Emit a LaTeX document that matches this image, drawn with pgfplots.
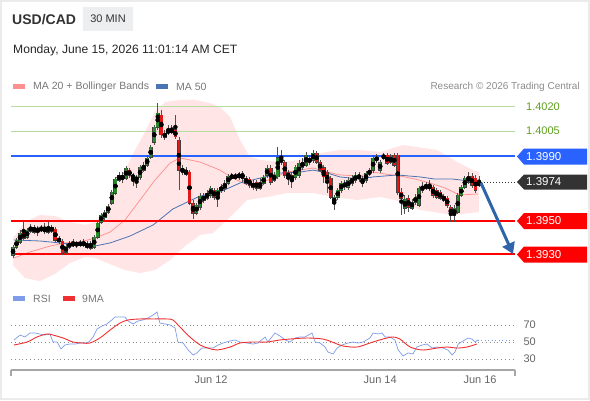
\documentclass[border=0pt]{standalone}
\usepackage{pgfplots}
\pgfplotsset{compat=1.18}
\usepackage{pgfplotstable}
\usetikzlibrary{arrows.meta}
\usepackage{fontspec}
\setmainfont{Liberation Sans}
\newcommand\fs[1]{\fontsize{#1}{#1}\selectfont}
\definecolor{upgreen}{HTML}{2A8A2A}
\definecolor{downred}{HTML}{E01818}
\definecolor{wick}{HTML}{505050}
\definecolor{bandfill}{HTML}{FFE5E5}
\definecolor{ma20}{HTML}{FF9090}
\definecolor{ma50}{HTML}{4A74B4}
\definecolor{lvlgreen}{HTML}{B8DCA0}
\definecolor{lvltext}{HTML}{5FA01E}
\definecolor{lvlblue}{HTML}{2962FF}
\definecolor{lvlred}{HTML}{FF0000}
\definecolor{tagdark}{HTML}{333333}
\definecolor{arrowblue}{HTML}{2F64A8}
\definecolor{rsiblue}{HTML}{7E9CEB}
\definecolor{rsired}{HTML}{F03030}
\definecolor{txtgray}{HTML}{777777}
\definecolor{lightgray}{HTML}{ECEEF0}

\pgfplotstableread{
i o h l c
0 1.39294 1.39355 1.39276 1.39343
1 1.39343 1.39398 1.39331 1.39386
2 1.39374 1.39447 1.39362 1.39429
4 1.39404 1.39459 1.39392 1.39447
5 1.39441 1.39484 1.39429 1.39466
7 1.39441 1.39472 1.39410 1.39459
8 1.39447 1.39478 1.39435 1.39459
10 1.39435 1.39496 1.39423 1.39466
15 1.39313 1.39362 1.39300 1.39349
16 1.39343 1.39380 1.39331 1.39368
17 1.39355 1.39392 1.39343 1.39368
19 1.39355 1.39386 1.39343 1.39374
23 1.39343 1.39417 1.39331 1.39404
24 1.39404 1.39508 1.39392 1.39490
25 1.39496 1.39551 1.39484 1.39539
26 1.39521 1.39570 1.39508 1.39557
27 1.39557 1.39606 1.39545 1.39594
28 1.39612 1.39692 1.39600 1.39680
29 1.39674 1.39772 1.39661 1.39759
30 1.39753 1.39802 1.39741 1.39784
32 1.39765 1.39839 1.39753 1.39827
36 1.39772 1.39845 1.39753 1.39833
37 1.39814 1.39863 1.39802 1.39845
38 1.39845 1.39906 1.39833 1.39888
39 1.39894 1.39967 1.39882 1.39955
40 1.39986 1.40090 1.39967 1.40078
41 1.40078 1.40224 1.40059 1.40163
43 1.40016 1.40059 1.39998 1.40041
44 1.40041 1.40090 1.40029 1.40059
49 1.39790 1.39833 1.39778 1.39814
52 1.39551 1.39612 1.39539 1.39600
53 1.39588 1.39674 1.39570 1.39655
55 1.39643 1.39692 1.39631 1.39674
56 1.39661 1.39717 1.39643 1.39704
58 1.39649 1.39704 1.39588 1.39692
59 1.39692 1.39729 1.39674 1.39710
60 1.39704 1.39753 1.39680 1.39735
61 1.39735 1.39790 1.39723 1.39778
62 1.39765 1.39796 1.39753 1.39784
70 1.39704 1.39765 1.39692 1.39735
71 1.39735 1.39784 1.39723 1.39772
72 1.39784 1.39845 1.39765 1.39827
74 1.39753 1.39802 1.39741 1.39784
75 1.39772 1.39955 1.39759 1.39888
80 1.39772 1.39845 1.39753 1.39833
81 1.39784 1.39876 1.39765 1.39857
83 1.39845 1.39925 1.39833 1.39906
84 1.39863 1.39906 1.39845 1.39888
85 1.39876 1.39937 1.39857 1.39918
91 1.39612 1.39661 1.39570 1.39649
92 1.39649 1.39704 1.39631 1.39692
93 1.39692 1.39747 1.39674 1.39735
95 1.39710 1.39772 1.39692 1.39753
96 1.39735 1.39784 1.39717 1.39765
97 1.39753 1.39802 1.39735 1.39784
100 1.39753 1.39808 1.39735 1.39796
101 1.39790 1.39827 1.39778 1.39814
102 1.39814 1.39906 1.39796 1.39888
104 1.39814 1.39876 1.39796 1.39863
105 1.39888 1.39918 1.39876 1.39906
111 1.39582 1.39661 1.39545 1.39637
113 1.39582 1.39637 1.39570 1.39619
114 1.39619 1.39668 1.39600 1.39649
115 1.39600 1.39717 1.39588 1.39704
116 1.39692 1.39741 1.39674 1.39717
117 1.39704 1.39741 1.39692 1.39723
125 1.39539 1.39600 1.39496 1.39582
126 1.39557 1.39674 1.39545 1.39661
127 1.39661 1.39723 1.39649 1.39710
128 1.39710 1.39778 1.39698 1.39765
129 1.39741 1.39802 1.39729 1.39778
132 1.39723 1.39778 1.39710 1.39741
}\upc

\pgfplotstableread{
i o h l c
3 1.39429 1.39496 1.39386 1.39398
6 1.39466 1.39478 1.39423 1.39435
9 1.39459 1.39490 1.39423 1.39435
11 1.39466 1.39478 1.39429 1.39441
12 1.39453 1.39466 1.39374 1.39386
13 1.39398 1.39410 1.39362 1.39374
14 1.39380 1.39392 1.39294 1.39306
18 1.39368 1.39380 1.39337 1.39355
20 1.39374 1.39392 1.39343 1.39355
21 1.39362 1.39380 1.39331 1.39343
22 1.39368 1.39380 1.39325 1.39337
31 1.39784 1.39802 1.39735 1.39759
33 1.39814 1.39827 1.39765 1.39784
34 1.39784 1.39796 1.39717 1.39765
35 1.39772 1.39784 1.39704 1.39753
42 1.40151 1.40182 1.40010 1.40029
45 1.40059 1.40090 1.40035 1.40047
46 1.40059 1.40151 1.40004 1.40016
47 1.39998 1.40016 1.39692 1.39814
48 1.39827 1.39845 1.39784 1.39802
50 1.39802 1.39814 1.39600 1.39612
51 1.39612 1.39631 1.39515 1.39551
54 1.39655 1.39674 1.39612 1.39631
57 1.39692 1.39704 1.39631 1.39649
63 1.39784 1.39796 1.39753 1.39765
64 1.39790 1.39802 1.39753 1.39772
65 1.39796 1.39808 1.39741 1.39765
66 1.39765 1.39778 1.39723 1.39735
67 1.39759 1.39772 1.39704 1.39723
68 1.39735 1.39753 1.39692 1.39710
69 1.39741 1.39753 1.39686 1.39704
73 1.39827 1.39845 1.39723 1.39741
76 1.39888 1.39937 1.39845 1.39863
77 1.39863 1.39876 1.39765 1.39784
78 1.39802 1.39814 1.39723 1.39765
79 1.39784 1.39802 1.39704 1.39753
82 1.39863 1.39888 1.39814 1.39833
86 1.39918 1.39931 1.39851 1.39863
87 1.39863 1.39876 1.39802 1.39814
88 1.39827 1.39845 1.39735 1.39772
89 1.39802 1.39814 1.39674 1.39741
90 1.39765 1.39778 1.39637 1.39649
94 1.39735 1.39753 1.39692 1.39717
98 1.39784 1.39802 1.39741 1.39765
99 1.39765 1.39778 1.39710 1.39735
103 1.39888 1.39912 1.39857 1.39876
106 1.39906 1.39918 1.39845 1.39857
107 1.39894 1.39912 1.39851 1.39863
108 1.39906 1.39918 1.39833 1.39845
109 1.39906 1.39918 1.39661 1.39680
110 1.39680 1.39704 1.39539 1.39643
112 1.39643 1.39661 1.39557 1.39588
118 1.39717 1.39753 1.39686 1.39704
119 1.39710 1.39723 1.39643 1.39661
120 1.39692 1.39704 1.39637 1.39649
121 1.39680 1.39692 1.39631 1.39643
122 1.39655 1.39668 1.39619 1.39631
123 1.39643 1.39655 1.39582 1.39600
124 1.39588 1.39600 1.39496 1.39539
130 1.39778 1.39796 1.39704 1.39723
131 1.39765 1.39784 1.39674 1.39692
}\downc

\pgfplotsset{
  wickstyle/.style={only marks, mark=none, forget plot,
    error bars/.cd, y dir=both, y explicit, error mark=none,
    error bar style={draw=wick, line width=0.8pt, solid}},
  bodystyle/.style={only marks, mark=none, forget plot,
    error bars/.cd, y dir=both, y explicit, error mark=none,
    error bar style={draw=#1, line width=2.5pt, solid}},
}

\begin{document}
\begin{tikzpicture}
\begin{scope}[x=1pt,y=-1pt]
\fill[white] (0,0) rectangle (590,400);
\draw[color=black!8, line width=2pt] (1,1) rectangle (589,399);
% header
\node[anchor=base west, inner sep=0, font=\fs{14}\bfseries, text=black!80] at (12,24.5) {USD/CAD};
\fill[lightgray] (83,7) rectangle (133,31);
\node[font=\fs{11}, text=black!80] at (108,19) {30 MIN};
\node[anchor=base west, inner sep=0, font=\fs{12.1}, text=black!85] at (13,53) {Monday, June 15, 2026 11:01:14 AM CET};
% legend
\fill[ma20] (13,84) rectangle (25,89);
\node[anchor=west, inner sep=0, font=\fs{10.5}, text=txtgray] at (33,86.5) {MA 20 + Bollinger Bands};
\fill[ma50] (156,84) rectangle (168,89);
\node[anchor=west, inner sep=0, font=\fs{10.5}, text=txtgray] at (176,86.5) {MA 50};
\node[anchor=east, inner sep=0, font=\fs{10}, text=black!45] at (580,86.5) {Research \textcopyright{} 2026 Trading Central};
\fill[rsiblue] (13,296) rectangle (25,301);
\node[anchor=west, inner sep=0, font=\fs{10.5}, text=txtgray] at (33,298.5) {RSI};
\fill[rsired] (63,296) rectangle (75,301);
\node[anchor=west, inner sep=0, font=\fs{10.5}, text=txtgray] at (82,298.5) {9MA};
\end{scope}

\begin{axis}[at={(11pt,-95pt)}, anchor=north west, width=504pt, height=190pt,
  scale only axis, xmin=-0.57, xmax=142.2, ymin=1.391106, ymax=1.402734,
  axis lines=none, clip=true]
% Bollinger band (upper edge left to right, lower edge right to left)
\addplot[fill=bandfill, draw=none, forget plot] coordinates {
(0,1.39398)(3.4,1.39496)(7.6,1.39539)(11.9,1.39533)(16.1,1.39496)(20.4,1.39478)(23.2,1.39496)(26.1,1.39570)(28.9,1.39680)(31.7,1.39814)(34.6,1.39937)(37.4,1.40047)(40.2,1.40170)(43.1,1.40231)(47.3,1.40243)(51.6,1.40243)(55.8,1.40224)(58.6,1.40200)(61.5,1.40139)(64.3,1.39998)(67.1,1.39894)(70.0,1.39876)(75.6,1.39863)(81.3,1.39876)(87.0,1.39918)(92.6,1.39937)(98.3,1.39937)(104.0,1.39925)(110.5,1.39967)(120.1,1.39937)(125.8,1.39863)(130.3,1.39814)(132.0,1.39802)
(132.0,1.39557)(124.6,1.39539)(115.3,1.39570)(108.2,1.39631)(104.0,1.39649)(97.5,1.39631)(90.7,1.39649)(85.0,1.39674)(77.6,1.39674)(72.0,1.39649)(66.3,1.39631)(61.5,1.39527)(56.7,1.39429)(53.0,1.39417)(48.7,1.39349)(44.5,1.39264)(40.2,1.39202)(36.0,1.39184)(31.7,1.39202)(27.5,1.39239)(23.2,1.39276)(20.4,1.39282)(16.1,1.39245)(11.9,1.39178)(7.6,1.39135)(3.4,1.39153)(0,1.39233)} -- cycle;
% MA20
\addplot[ma20, line width=0.75pt] coordinates {
(0.3,1.39276)(4.8,1.39313)(10.5,1.39349)(14.7,1.39368)(19.0,1.39374)(23.2,1.39398)(27.5,1.39435)(31.7,1.39508)(36.0,1.39631)(40.2,1.39753)(44.5,1.39857)(47.3,1.39888)(50.1,1.39876)(53.0,1.39863)(58.6,1.39814)(62.3,1.39765)(66.3,1.39723)(70.0,1.39735)(73.7,1.39765)(77.6,1.39802)(81.3,1.39814)(85.0,1.39827)(89.0,1.39802)(92.6,1.39784)(98.3,1.39778)(102.0,1.39802)(105.4,1.39790)(109.6,1.39778)(113.9,1.39759)(118.1,1.39735)(122.4,1.39704)(126.6,1.39661)(131.7,1.39668)};
% MA50
\addplot[ma50, line width=0.8pt] coordinates {
(0.3,1.39386)(7.6,1.39380)(13.3,1.39368)(19.0,1.39355)(23.2,1.39349)(27.5,1.39368)(33.1,1.39410)(39.7,1.39478)(45.3,1.39576)(50.0,1.39625)(53.0,1.39655)(58.6,1.39680)(64.3,1.39735)(70.0,1.39765)(75.6,1.39796)(81.3,1.39802)(85.0,1.39814)(89.0,1.39796)(92.6,1.39772)(98.3,1.39759)(102.0,1.39772)(108.8,1.39784)(115.3,1.39772)(119.5,1.39759)(124.6,1.39759)(131.7,1.39741)};
% levels
\addplot[lvlgreen, line width=1pt] coordinates {(-0.57,1.4020)(142.2,1.4020)};
\addplot[lvlgreen, line width=1pt] coordinates {(-0.57,1.4005)(142.2,1.4005)};
\addplot[lvlblue, line width=1.2pt] coordinates {(-0.57,1.3990)(142.2,1.3990)};
\addplot[lvlred, line width=2pt] coordinates {(-0.57,1.3950)(142.2,1.3950)};
\addplot[lvlred, line width=2pt] coordinates {(-0.57,1.3930)(142.2,1.3930)};
\addplot[black!80, line width=0.9pt, dash pattern=on 1pt off 2pt] coordinates {(132.6,1.3974)(142.2,1.3974)};
% candles
\addplot[wickstyle] table[x=i, y expr={(\thisrow{h}+\thisrow{l})/2}, y error expr={(\thisrow{h}-\thisrow{l})/2}] {\upc};
\addplot[wickstyle] table[x=i, y expr={(\thisrow{h}+\thisrow{l})/2}, y error expr={(\thisrow{h}-\thisrow{l})/2}] {\downc};
\addplot[bodystyle=black!75, error bar style={line width=3.8pt}] table[x=i, y expr={(\thisrow{o}+\thisrow{c})/2}, y error expr={abs(\thisrow{c}-\thisrow{o})/2+0.00003}] {\upc};
\addplot[bodystyle=black!75, error bar style={line width=3.8pt}] table[x=i, y expr={(\thisrow{o}+\thisrow{c})/2}, y error expr={abs(\thisrow{c}-\thisrow{o})/2+0.00003}] {\downc};
\addplot[bodystyle=upgreen, error bar style={line width=2.6pt}] table[x=i, y expr={(\thisrow{o}+\thisrow{c})/2}, y error expr={abs(\thisrow{c}-\thisrow{o})/2}] {\upc};
\addplot[bodystyle=downred, error bar style={line width=2.6pt}] table[x=i, y expr={(\thisrow{o}+\thisrow{c})/2}, y error expr={abs(\thisrow{c}-\thisrow{o})/2}] {\downc};
\end{axis}

\begin{axis}[at={(11pt,-300pt)}, anchor=north west, width=504pt, height=70pt,
  scale only axis, xmin=-0.57, xmax=142.2, ymin=17.06, ymax=99.4,
  axis x line=bottom, axis y line=right,
  x axis line style={-, draw=black!35, line width=1.6pt},
  y axis line style={draw=none},
  major tick length=0pt,
  xtick={56.1,104,132.3}, xticklabels={Jun 12,Jun 14,Jun 16},
  ytick={30,50,70},
  ymajorgrids, grid style={black!45, line width=0.7pt, dash pattern=on 0.8pt off 3pt},
  tick label style={font=\fs{11}, text=black!60},
  xticklabel style={yshift=-2.5pt},
  yticklabel style={xshift=5pt},
  /pgf/number format/assume math mode=true,
  clip=false]
\addplot[rsiblue, line width=0.7pt] coordinates {
(0.3,52.4)(2.0,58.2)(3.4,55.9)(4.8,60.6)(6.2,60.6)(7.6,59.4)(9.1,58.2)(10.5,59.4)(11.3,50.0)(12.5,50.0)(13.6,41.8)(14.7,46.5)(16.1,47.6)(17.6,47.6)(19.0,48.8)(20.4,48.8)(21.5,50.0)(22.7,55.9)(23.8,65.3)(25.2,68.8)(26.6,71.2)(28.0,75.9)(28.9,79.4)(30.3,79.4)(31.7,79.4)(32.6,74.7)(34.0,71.2)(35.4,74.7)(36.8,75.9)(38.2,78.2)(39.7,81.8)(40.8,85.3)(41.6,72.3)(43.1,71.2)(44.5,70.0)(45.9,66.5)(46.7,50.0)(48.2,48.8)(49.6,40.6)(51.0,34.7)(52.1,37.1)(53.5,42.9)(55.0,42.9)(56.7,42.9)(58.1,46.5)(59.5,48.8)(61.5,51.2)(62.9,52.4)(64.3,50.0)(66.3,48.8)(68.0,47.6)(69.4,48.8)(71.4,55.9)(72.2,50.0)(74.2,60.6)(75.6,57.1)(77.1,52.4)(78.5,50.0)(79.9,54.7)(81.3,55.9)(82.7,55.9)(84.7,60.6)(85.6,50.0)(87.0,48.8)(88.4,44.1)(89.2,38.2)(90.7,35.9)(91.8,42.9)(93.2,46.5)(94.9,48.8)(96.3,50.0)(97.7,48.8)(99.2,50.0)(101.1,54.7)(102.0,60.6)(103.4,59.4)(104.5,60.6)(105.4,55.9)(106.8,55.9)(108.2,52.4)(109.1,40.6)(110.5,33.5)(111.9,37.1)(113.3,35.9)(114.4,44.1)(115.9,46.5)(117.3,47.6)(118.7,42.9)(120.1,44.1)(121.8,42.9)(123.2,40.6)(124.4,34.7)(125.2,38.2)(126.1,47.6)(127.5,51.2)(128.9,54.7)(130.0,53.5)(130.9,50.0)(131.7,52.4)};
\addplot[rsiblue, line width=0.9pt, dash pattern=on 1pt off 2.5pt] coordinates {(131.7,52.4)(142.2,52.4)};
\addplot[rsired, line width=0.9pt, smooth] coordinates {
(0.3,46.5)(4.0,50.0)(6.8,55.9)(9.6,59.4)(11.3,58.2)(14.2,54.7)(17.0,50.0)(19.8,48.8)(21.8,48.8)(24.6,54.7)(27.5,64.1)(30.3,72.3)(32.6,75.9)(36.0,77.1)(39.7,77.1)(43.6,77.1)(45.3,75.9)(47.3,67.6)(50.1,55.9)(53.0,46.5)(55.2,42.9)(57.8,40.6)(61.5,44.1)(64.3,48.8)(68.0,50.0)(72.0,50.0)(75.6,52.4)(78.5,53.5)(83.3,54.7)(87.8,53.5)(90.4,50.0)(93.5,45.3)(97.5,44.1)(101.1,48.8)(104.8,53.5)(107.6,55.9)(109.6,53.5)(112.5,44.1)(116.1,40.6)(120.1,42.9)(122.9,44.1)(125.8,42.9)(128.6,44.1)(131.4,47.6)};
\draw[black!35, line width=1.6pt] (rel axis cs:0,0) -- ++(0pt,-6pt);
\draw[black!35, line width=1.6pt] (rel axis cs:1,0) -- ++(0pt,-6pt);
\end{axis}

\begin{scope}[x=1pt,y=-1pt]
% right labels
\node[anchor=west, inner sep=0, font=\fs{11}, text=lvltext] at (526,107) {1.4020};
\node[anchor=west, inner sep=0, font=\fs{11}, text=lvltext] at (526,131) {1.4005};
\fill[lvlblue] (517,156.5) -- (524,148.5) -- (587,148.5) -- (587,164.5) -- (524,164.5) -- cycle;
\node[anchor=west, inner sep=0, font=\fs{11.5}, text=white] at (526,156.5) {1.3990};
\fill[tagdark] (517,182) -- (524,174.5) -- (587,174.5) -- (587,189.5) -- (524,189.5) -- cycle;
\node[anchor=west, inner sep=0, font=\fs{11.5}, text=white] at (526,182) {1.3974};
\fill[lvlred] (517,221) -- (524,213) -- (587,213) -- (587,229) -- (524,229) -- cycle;
\node[anchor=west, inner sep=0, font=\fs{11.5}, text=white] at (526,221) {1.3950};
\fill[lvlred] (517,254.5) -- (524,246.5) -- (587,246.5) -- (587,262.5) -- (524,262.5) -- cycle;
\node[anchor=west, inner sep=0, font=\fs{11.5}, text=white] at (526,254.5) {1.3930};
% arrow
\draw[arrowblue, line width=3pt, -{Triangle[length=11pt,width=13pt]}] (481,183) -- (513,254);
\end{scope}
\end{tikzpicture}
\end{document}
